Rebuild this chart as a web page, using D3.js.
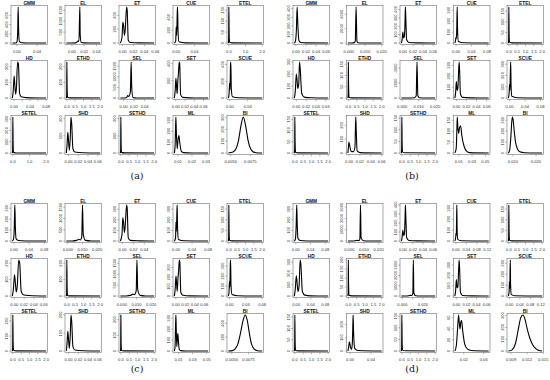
<!DOCTYPE html>
<html>
<head>
<meta charset="utf-8">
<script src="https://cdn.jsdelivr.net/npm/d3@7"></script>
<style>
  body { margin: 0; background: #fff; }
  svg { display: block; }
</style>
</head>
<body>
<svg id="fig" width="550" height="380"></svg>
<script>
// plot titles, same order in every panel (3 rows x 5 columns)
const titles = ["GMM", "EL", "ET", "CUE", "ETEL",
                "HD", "ETHD", "SEL", "SET", "SCUE",
                "SETEL", "SHD", "SETHD", "ML", "BI"];
const panelLabels = ["(a)", "(b)", "(c)", "(d)"];

// ---- panel (a) ----
const xTicksA = [
  ["0.00","0.04"], ["0.00","0.02","0.04"], ["0.00","0.02","0.04","0.06"], ["0.00","0.04"], ["0.0","1.0","2.0"],
  ["0.00","0.02","0.04","0.06","0.08"], ["0.0","0.5","1.0","1.5","2.0"], ["0.00","0.02","0.04"], ["0.00","0.02","0.04","0.06"], ["0.00","0.04"],
  ["0.0","1.0","2.0"], ["0.00","0.02","0.04","0.06"], ["0.0","0.5","1.0","1.5","2.0"], ["0.01","0.02","0.03"], ["0.0050","0.0075"]
];
const yTicksA = [
  ["0","200","400","600"], ["0","500","1000","1500"], ["0","200","400"], ["0","200","400"], ["0","50","100","150"],
  ["0","100","200"], ["0","100","200"], ["0","500","1000","1500"], ["0","200","400"], ["0","200","400"],
  ["0","100","200","300"], ["0","100","200"], ["0","100","200"], ["0","100","200","300"], ["0","100","200","300"]
];
const curvesA = [
  [[-0.009,0],[-0.002,2],[0.0,20],[0.0015,200],[0.0025,780],[0.0035,250],[0.005,30],[0.01,6],[0.02,2],[0.058,0]],
  [[-0.009,0],[0.0,2],[0.006,10],[0.009,60],[0.0105,100],[0.0115,80],[0.0125,1200],[0.013,1650],[0.0135,400],[0.015,40],[0.02,8],[0.03,2],[0.046,0]],
  [[-0.004,0],[-0.001,80],[0.0005,300],[0.002,250],[0.0035,110],[0.005,200],[0.0075,520],[0.0085,480],[0.0105,40],[0.014,8],[0.03,2],[0.058,0]],
  [[-0.004,0],[-0.001,30],[0.0,250],[0.001,120],[0.0025,500],[0.003,560],[0.004,200],[0.006,20],[0.02,3],[0.07,0]],
  [[-0.03,0],[-0.01,20],[0.0,165],[0.015,60],[0.04,4],[0.2,1],[2.0,0]],
  [[-0.004,0],[-0.002,40],[0.0005,140],[0.002,90],[0.004,25],[0.006,60],[0.009,230],[0.011,220],[0.014,30],[0.018,8],[0.03,3],[0.08,0]],
  [[-0.03,0],[-0.01,15],[0.0,230],[0.015,70],[0.04,5],[0.2,1],[2.0,0]],
  [[-0.006,0],[0.003,3],[0.006,30],[0.008,120],[0.01,70],[0.013,300],[0.0145,1700],[0.0155,500],[0.018,30],[0.025,5],[0.058,0]],
  [[-0.003,0],[-0.001,100],[0.0003,230],[0.0015,160],[0.003,50],[0.0045,200],[0.006,300],[0.0075,420],[0.0085,400],[0.0105,40],[0.015,8],[0.03,2],[0.07,0]],
  [[-0.003,0],[-0.0015,40],[-0.0002,180],[0.0008,100],[0.0018,400],[0.0025,430],[0.0035,120],[0.006,15],[0.02,3],[0.072,0]],
  [[-0.03,0],[-0.01,25],[0.0,320],[0.015,100],[0.04,6],[0.2,1],[2.0,0]],
  [[-0.0045,0],[-0.003,50],[-0.0015,120],[0.0,70],[0.0017,15],[0.0035,90],[0.005,210],[0.0065,170],[0.009,25],[0.013,6],[0.03,2],[0.065,0]],
  [[-0.03,0],[-0.01,20],[0.0,210],[0.015,60],[0.04,4],[0.2,1],[2.0,0]],
  [[0.0075,0],[0.008,60],[0.0084,250],[0.0086,330],[0.0089,200],[0.0095,40],[0.0101,120],[0.0107,160],[0.0113,100],[0.0125,15],[0.014,4],[0.02,1],[0.0315,0]],
  [[0.0047,0],[0.0053,8],[0.0057,40],[0.006,110],[0.0063,230],[0.0066,305],[0.0069,230],[0.0072,110],[0.0075,40],[0.0079,8],[0.0085,1],[0.009,0]]
];

// ---- panel (b) ----
const xTicksB = [
  ["0.00","0.02","0.04","0.06"], ["0.000","0.010","0.020"], ["0.00","0.02","0.04","0.06"], ["0.00","0.04","0.08"], ["0.0","0.5","1.0","1.5","2.0"],
  ["0.00","0.02","0.04","0.06"], ["0.0","0.5","1.0","1.5","2.0"], ["0.000","0.010","0.020"], ["0.00","0.02","0.04","0.06"], ["0.00","0.04","0.08"],
  ["0.0","0.5","1.0","1.5","2.0"], ["0.00","0.02","0.04","0.06"], ["0.0","0.5","1.0","1.5","2.0"], ["0.01","0.03","0.05"], ["0.010","0.020"]
];
const yTicksB = [
  ["0","100","200","300","400"], ["0","2000","4000"], ["0","100","200","300","400"], ["0","100","200","300"], ["0","50","100","150"],
  ["0","100","200","300"], ["0","50","100","150"], ["0","2000","4000"], ["0","100","200","300"], ["0","100","200","300"],
  ["0","50","100","150"], ["0","100","200"], ["0","50","100","150"], ["0","50","100","150"], ["0","100","200","300"]
];
const curvesB = [
  [[-0.003,0],[-0.001,20],[0.001,150],[0.0025,420],[0.004,200],[0.006,30],[0.01,6],[0.02,2],[0.064,0]],
  [[-0.0005,0],[0.002,5],[0.0035,60],[0.004,300],[0.0045,5000],[0.005,300],[0.0055,40],[0.008,5],[0.02,0]],
  [[-0.003,0],[-0.0015,40],[0.0,130],[0.0015,60],[0.003,80],[0.0045,300],[0.005,430],[0.0058,300],[0.0075,40],[0.012,6],[0.03,2],[0.064,0]],
  [[-0.003,0],[-0.001,30],[0.0,55],[0.001,40],[0.002,150],[0.003,330],[0.004,120],[0.006,15],[0.02,3],[0.084,0]],
  [[-0.03,0],[-0.01,20],[0.0,170],[0.015,50],[0.04,4],[0.2,1],[2.0,0]],
  [[-0.004,0],[-0.002,60],[0.0,200],[0.0015,150],[0.003,80],[0.005,120],[0.0065,300],[0.008,240],[0.011,40],[0.016,8],[0.03,2],[0.065,0]],
  [[-0.03,0],[-0.01,20],[0.0,160],[0.015,50],[0.04,4],[0.2,1],[2.0,0]],
  [[-0.0005,0],[0.004,5],[0.0075,50],[0.0085,300],[0.009,4800],[0.0095,300],[0.0105,40],[0.014,5],[0.02,0]],
  [[-0.003,0],[-0.0015,50],[0.0,150],[0.0015,70],[0.003,90],[0.0045,250],[0.0055,330],[0.0065,250],[0.008,40],[0.012,6],[0.03,2],[0.064,0]],
  [[-0.003,0],[-0.001,40],[0.0,120],[0.001,70],[0.002,200],[0.003,320],[0.004,110],[0.006,15],[0.02,3],[0.084,0]],
  [[-0.03,0],[-0.01,20],[0.0,160],[0.015,50],[0.04,4],[0.2,1],[2.0,0]],
  [[-0.002,0],[-0.001,40],[0.0,80],[0.002,40],[0.004,12],[0.008,10],[0.011,40],[0.0125,260],[0.0135,150],[0.015,15],[0.02,3],[0.06,0]],
  [[-0.03,0],[-0.01,20],[0.0,155],[0.015,50],[0.04,4],[0.2,1],[2.0,0]],
  [[0.004,0],[0.006,20],[0.007,100],[0.0076,165],[0.0085,120],[0.0098,90],[0.011,115],[0.0127,125],[0.0145,80],[0.018,30],[0.022,8],[0.026,2],[0.055,0]],
  [[0.008,0],[0.0086,30],[0.0091,150],[0.0095,290],[0.0098,330],[0.0101,300],[0.0106,190],[0.0112,90],[0.012,35],[0.013,12],[0.015,3],[0.018,1],[0.0227,0]]
];

// ---- panel (c) ----
const xTicksC = [
  ["0.00","0.04","0.08"], ["0.000","0.010","0.020"], ["0.00","0.02","0.04"], ["0.00","0.04","0.08"], ["0.0","0.5","1.0","1.5","2.0"],
  ["0.00","0.02","0.04","0.06"], ["0.0","0.5","1.0","1.5","2.0"], ["0.000","0.010","0.020"], ["0.00","0.02","0.04","0.06"], ["0.00","0.04","0.08"],
  ["0.0","0.5","1.0","1.5","2.0"], ["0.00","0.02","0.04","0.06"], ["0.0","0.5","1.0","1.5","2.0"], ["0.01","0.03","0.05"], ["0.0050","0.0075"]
];
const yTicksC = [
  ["0","100","200","300"], ["0","500","1000","1500"], ["0","100","200","300"], ["0","100","200","300"], ["0","50","100","150"],
  ["0","100","200"], ["0","100","200"], ["0","500","1000","1500"], ["0","100","200","300"], ["0","100","200","300"],
  ["0","100","200"], ["0","100","200"], ["0","100","200"], ["0","100","200","300"], ["0","200","400"]
];
const curvesC = [
  [[-0.004,0],[-0.001,15],[0.001,120],[0.0025,330],[0.004,120],[0.006,20],[0.012,5],[0.03,1],[0.085,0]],
  [[-0.001,0],[0.003,5],[0.006,30],[0.0075,80],[0.0085,50],[0.0095,200],[0.01,1600],[0.0105,300],[0.012,30],[0.016,5],[0.022,0]],
  [[-0.004,0],[-0.001,60],[0.0005,220],[0.002,170],[0.0035,80],[0.005,150],[0.0075,340],[0.0085,310],[0.0105,30],[0.014,6],[0.03,2],[0.058,0]],
  [[-0.004,0],[-0.001,30],[0.0,180],[0.001,90],[0.0025,300],[0.003,340],[0.004,120],[0.006,15],[0.02,3],[0.08,0]],
  [[-0.03,0],[-0.01,20],[0.0,170],[0.015,50],[0.04,4],[0.2,1],[2.0,0]],
  [[-0.004,0],[-0.002,40],[0.0005,130],[0.002,85],[0.004,25],[0.006,60],[0.009,220],[0.011,200],[0.014,30],[0.018,8],[0.03,3],[0.065,0]],
  [[-0.03,0],[-0.01,20],[0.0,220],[0.015,60],[0.04,4],[0.2,1],[2.0,0]],
  [[-0.001,0],[0.003,5],[0.006,30],[0.0075,90],[0.0085,60],[0.0098,250],[0.0103,1650],[0.0108,300],[0.0125,30],[0.016,5],[0.022,0]],
  [[-0.003,0],[-0.001,90],[0.0003,210],[0.0015,150],[0.003,50],[0.0045,180],[0.006,270],[0.0075,380],[0.0085,360],[0.0105,40],[0.015,8],[0.03,2],[0.068,0]],
  [[-0.003,0],[-0.0015,30],[-0.0002,150],[0.0008,90],[0.0018,330],[0.0025,360],[0.0035,110],[0.006,15],[0.02,3],[0.08,0]],
  [[-0.03,0],[-0.01,20],[0.0,240],[0.015,70],[0.04,5],[0.2,1],[2.0,0]],
  [[-0.0045,0],[-0.003,45],[-0.0015,110],[0.0,65],[0.0017,15],[0.0035,85],[0.005,200],[0.0065,165],[0.009,25],[0.013,6],[0.03,2],[0.065,0]],
  [[-0.03,0],[-0.01,20],[0.0,230],[0.015,60],[0.04,4],[0.2,1],[2.0,0]],
  [[0.004,0],[0.005,40],[0.0058,250],[0.0062,330],[0.0067,200],[0.0075,40],[0.0083,120],[0.009,160],[0.0097,100],[0.011,15],[0.013,4],[0.02,1],[0.052,0]],
  [[0.0045,0],[0.0051,6],[0.0055,30],[0.0059,100],[0.0063,260],[0.0067,450],[0.007,520],[0.0073,440],[0.0076,260],[0.0079,110],[0.0083,30],[0.0088,5],[0.0095,0]]
];

// ---- panel (d) ----
const xTicksD = [
  ["0.00","0.04","0.08"], ["0.000","0.010","0.020"], ["0.00","0.02","0.04","0.06"], ["0.00","0.04","0.08","0.12"], ["0.0","0.5","1.0","1.5","2.0"],
  ["0.00","0.04","0.08"], ["0.0","0.5","1.0","1.5","2.0"], ["0.000","0.010","0.020","0.030"], ["0.00","0.02","0.04","0.06"], ["0.00","0.04","0.08","0.12"],
  ["0.0","0.5","1.0","1.5","2.0"], ["0.00","0.04"], ["0.0","0.5","1.0","1.5","2.0"], ["0.02","0.06"], ["0.009","0.012","0.015"]
];
const yTicksD = [
  ["0","100","200","300"], ["0","1000","2000","3000"], ["0","100","200","300","400"], ["0","100","200","300"], ["0","50","100","150"],
  ["0","100","200","300"], ["0","50","100","150","200"], ["0","1000","2000","3000"], ["0","100","200","300"], ["0","100","200","300"],
  ["0","50","100","150"], ["0","100","200"], ["0","50","100","150"], ["0","20","40","60"], ["0","100","200","300"]
];
const curvesD = [
  [[-0.004,0],[-0.001,20],[0.001,150],[0.0025,340],[0.004,140],[0.006,25],[0.012,5],[0.03,1],[0.088,0]],
  [[-0.001,0],[0.002,5],[0.004,30],[0.0055,60],[0.0065,40],[0.0072,200],[0.0076,3200],[0.008,300],[0.0095,30],[0.014,5],[0.022,0]],
  [[-0.003,0],[-0.0015,40],[0.0,120],[0.0015,60],[0.003,80],[0.0045,280],[0.005,400],[0.0058,280],[0.0075,40],[0.012,6],[0.03,2],[0.064,0]],
  [[-0.004,0],[-0.001,30],[0.0,70],[0.0015,50],[0.0025,180],[0.0035,330],[0.0045,120],[0.007,15],[0.02,3],[0.125,0]],
  [[-0.03,0],[-0.01,20],[0.0,170],[0.015,50],[0.04,4],[0.2,1],[2.0,0]],
  [[-0.005,0],[-0.0025,60],[0.0005,180],[0.0025,120],[0.005,40],[0.008,90],[0.011,320],[0.013,280],[0.017,40],[0.024,8],[0.04,2],[0.088,0]],
  [[-0.03,0],[-0.01,20],[0.0,200],[0.015,60],[0.04,4],[0.2,1],[2.0,0]],
  [[-0.001,0],[0.003,5],[0.006,25],[0.008,70],[0.009,50],[0.0102,250],[0.0107,3500],[0.0112,300],[0.013,30],[0.018,5],[0.032,0]],
  [[-0.003,0],[-0.0015,50],[0.0,160],[0.0015,80],[0.003,90],[0.0045,260],[0.0055,350],[0.0065,260],[0.008,40],[0.012,6],[0.03,2],[0.064,0]],
  [[-0.004,0],[-0.001,40],[0.0,130],[0.0015,70],[0.0025,220],[0.0035,330],[0.0045,110],[0.007,15],[0.02,3],[0.125,0]],
  [[-0.03,0],[-0.01,20],[0.0,160],[0.015,50],[0.04,4],[0.2,1],[2.0,0]],
  [[-0.004,0],[-0.0025,30],[-0.001,70],[0.001,30],[0.003,12],[0.0045,60],[0.0055,200],[0.006,270],[0.0068,150],[0.009,20],[0.015,4],[0.06,0]],
  [[-0.03,0],[-0.01,20],[0.0,155],[0.015,50],[0.04,4],[0.2,1],[2.0,0]],
  [[0.002,0],[0.005,10],[0.0075,40],[0.0095,65],[0.011,50],[0.0125,40],[0.014,52],[0.0155,55],[0.018,35],[0.022,12],[0.027,4],[0.035,1],[0.07,0]],
  [[0.0085,0],[0.0092,10],[0.0098,60],[0.0103,170],[0.0108,280],[0.0112,305],[0.0116,270],[0.012,190],[0.0125,110],[0.013,55],[0.0136,20],[0.0142,5],[0.0148,0]]
];

// layout of the four panels
const panels = [
  { x0: 0,   y0: 0,   pitch: 54,   xt: xTicksA, yt: yTicksA, cv: curvesA, lx: 137, ly: 179 },
  { x0: 282, y0: 0,   pitch: 53.5, xt: xTicksB, yt: yTicksB, cv: curvesB, lx: 412, ly: 179 },
  { x0: 0,   y0: 198, pitch: 54,   xt: xTicksC, yt: yTicksC, cv: curvesC, lx: 137, ly: 372 },
  { x0: 282, y0: 198, pitch: 53.5, xt: xTicksD, yt: yTicksD, cv: curvesD, lx: 412, ly: 372 }
];

const boxW = 36.5, boxH = 39;
const rowTops = [5.5, 60.5, 115.5];
const boxLeft = 11;
const tickFont = 4.1;

const svg = d3.select('#fig');
svg.append('rect').attr('width', 550).attr('height', 380).attr('fill', '#fff');

const line = d3.line().curve(d3.curveMonotoneX);

function drawPlot(g, title, pts, xt, yt) {
    const xs = pts.map(p => p[0]);
    const ys = pts.map(p => p[1]);
    const [xmin, xmax] = d3.extent(xs);
    const xr = xmax - xmin;
    const ymax = d3.max(ys);

    // R style 4% padding on both axes
    const x = d3.scaleLinear().domain([xmin - 0.04 * xr, xmax + 0.04 * xr]).range([0, boxW]);
    const y = d3.scaleLinear().domain([-0.04 * ymax, 1.04 * ymax]).range([boxH, 0]);

    g.append('path')
        .attr('d', line.x(d => x(d[0])).y(d => y(d[1]))(pts))
        .attr('fill', 'none')
        .attr('stroke', '#000')
        .attr('stroke-width', 1.1)
        .attr('stroke-linejoin', 'round');

    g.append('rect')
        .attr('width', boxW).attr('height', boxH)
        .attr('fill', 'none')
        .attr('stroke', '#6f6f6f')
        .attr('stroke-width', 0.6);

    g.append('text')
        .text(title)
        .attr('x', boxW / 2).attr('y', -1)
        .attr('text-anchor', 'middle')
        .attr('font-family', 'Liberation Sans, Arial, sans-serif')
        .attr('font-weight', 'bold')
        .attr('font-size', 4.8)
        .attr('fill', '#111');

    // x axis: skip labels that would overlap the previous one (like R does)
    let lastRight = -Infinity;
    xt.forEach(s => {
        const px = x(+s);
        g.append('line')
            .attr('x1', px).attr('x2', px)
            .attr('y1', boxH).attr('y2', boxH + 1.8)
            .attr('stroke', '#6f6f6f').attr('stroke-width', 0.5);
        const t = g.append('text')
            .text(s)
            .attr('x', px).attr('y', boxH + 8.4)
            .attr('text-anchor', 'middle')
            .attr('font-family', 'Liberation Sans, Arial, sans-serif')
            .attr('font-size', tickFont)
            .attr('fill', '#333');
        const w = t.node().getComputedTextLength();
        if (px - w / 2 < lastRight + 1) t.remove();
        else lastRight = px + w / 2;
    });

    // y axis, rotated labels
    let lastTop = Infinity;
    yt.forEach(s => {
        const py = y(+s);
        g.append('line')
            .attr('x1', 0).attr('x2', -1.8)
            .attr('y1', py).attr('y2', py)
            .attr('stroke', '#6f6f6f').attr('stroke-width', 0.5);
        const t = g.append('text')
            .text(s)
            .attr('transform', `translate(-3.4,${py}) rotate(-90)`)
            .attr('text-anchor', 'middle')
            .attr('font-family', 'Liberation Sans, Arial, sans-serif')
            .attr('font-size', tickFont)
            .attr('fill', '#333');
        const w = t.node().getComputedTextLength();
        if (py + w / 2 > lastTop - 1) t.remove();
        else lastTop = py - w / 2;
    });
}

panels.forEach((p, pi) => {
    const pg = svg.append('g').attr('transform', `translate(${p.x0},${p.y0})`);
    titles.forEach((title, i) => {
        const row = Math.floor(i / 5), col = i % 5;
        const g = pg.append('g')
            .attr('transform', `translate(${col * p.pitch + boxLeft},${rowTops[row]})`);
        drawPlot(g, title, p.cv[i], p.xt[i], p.yt[i]);
    });

    svg.append('text')
        .text(panelLabels[pi])
        .attr('x', p.lx).attr('y', p.ly)
        .attr('text-anchor', 'middle')
        .attr('font-family', 'DejaVu Serif, Liberation Serif, serif')
        .attr('font-size', 9.5)
        .attr('fill', '#111');
});
</script>
</body>
</html>
